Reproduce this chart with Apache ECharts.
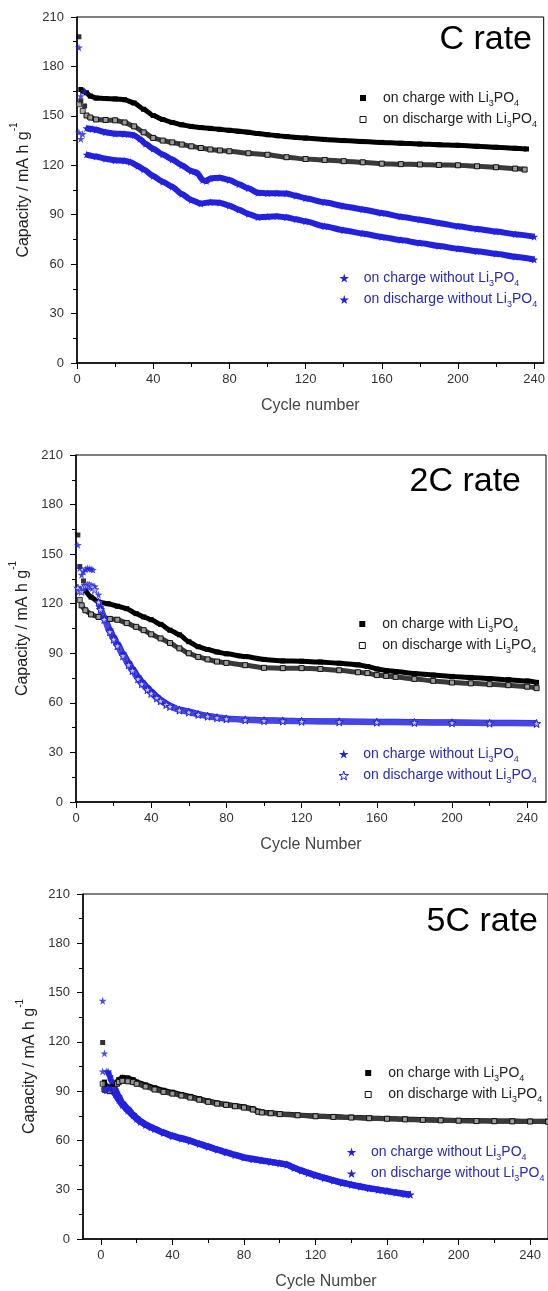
<!DOCTYPE html>
<html>
<head>
<meta charset="utf-8">
<script src="https://cdn.jsdelivr.net/npm/echarts@6/dist/echarts.min.js"></script>
<style>
html, body { margin: 0; padding: 0; background: #fff; }
#main { width: 548px; height: 1291px; }
</style>
</head>
<body>
<div id="main"></div>
<script>
// tick labels
var xTicks = [0, 40, 80, 120, 160, 200, 240];
var xMinorTicks = [20, 60, 100, 140, 180, 220];

// ---- C rate : [cycle, capacity] ----
var c1ChargeWithFirst = [[1, 198], [2, 159], [4, 156]];
var c1ChargeWith = [[2, 166], [3, 165], [5, 164], [7, 162], [10, 160.8], [15, 160.5], [20, 160.3], [25, 159.8], [30, 157.8], [35, 154], [40, 150.2], [45, 147.8], [50, 146], [55, 144.6], [60, 143.6], [65, 142.9], [70, 142.4], [75, 141.8], [80, 141.2], [85, 140.6], [90, 140], [95, 139.3], [100, 138.6], [105, 138], [110, 137.4], [115, 136.9], [120, 136.5], [130, 135.7], [140, 135], [150, 134.4], [160, 133.9], [170, 133.4], [180, 132.9], [190, 132.5], [200, 132.1], [210, 131.5], [220, 130.9], [230, 130.3], [236, 129.9]];
var c1DischargeWithFirst = [[1, 157], [3, 153]];
var c1DischargeWith = [[5, 150.2], [7, 149], [10, 147.8], [15, 147.5], [20, 147.3], [25, 146], [30, 143.6], [35, 140], [40, 136.6], [45, 135], [50, 133.9], [55, 132.6], [60, 131.5], [65, 130.5], [70, 129.6], [75, 129], [80, 128.5], [90, 127.3], [100, 126.4], [110, 124.9], [120, 123.8], [130, 123.2], [140, 122.5], [150, 121.8], [160, 121], [170, 120.7], [180, 120.5], [190, 120.2], [200, 120], [210, 119.4], [220, 118.8], [230, 118], [235, 117.4]];
var c1ChargeWithoutFirst = [[1, 191.5], [2, 162], [4, 165]];
var c1ChargeWithout = [[5, 142.5], [8, 142], [10, 141.5], [15, 140], [20, 139.2], [25, 139], [30, 138.3], [33, 136], [36, 133], [40, 130], [45, 126.5], [50, 123.5], [55, 120], [60, 116.5], [63, 115.5], [66, 111], [68, 110.5], [70, 112], [75, 112.5], [80, 111], [85, 108.5], [90, 106], [95, 103.3], [100, 103], [105, 103], [110, 102.8], [115, 101.5], [120, 100], [130, 97.5], [140, 95.2], [150, 93.2], [160, 91], [170, 88.8], [180, 87], [190, 85], [200, 83], [210, 81.3], [220, 79.8], [230, 78.2], [240, 76.7]];
var c1DischargeWithoutFirst = [[1, 140], [2, 136], [3, 139]];
var c1DischargeWithout = [[5, 126.5], [10, 125.3], [15, 124], [20, 123], [25, 122.8], [28, 122], [32, 119.5], [35, 117.5], [40, 113.5], [45, 110], [50, 107], [55, 102.5], [60, 99], [65, 96.8], [70, 97.6], [75, 97.3], [80, 95.5], [85, 93], [90, 90.5], [95, 88.5], [100, 88.8], [105, 89], [110, 88.4], [115, 87.2], [120, 86], [130, 83], [140, 80.6], [150, 78.6], [160, 76.5], [170, 74.6], [180, 72.8], [190, 71], [200, 69.3], [210, 67.8], [220, 66.3], [230, 64.5], [240, 62.8]];

// ---- 2C rate ----
var c2ChargeWithFirst = [[1, 161.6], [2, 142.5], [4, 133.8]];
var c2ChargeWith = [[5, 128], [8, 124], [12, 121], [17, 120], [22, 118.5], [27, 117], [32, 114], [36, 112], [40, 110.3], [45, 107.5], [50, 104], [55, 101.2], [60, 97], [65, 94], [70, 92.3], [75, 90.8], [80, 89.7], [90, 88], [100, 86.3], [110, 85.4], [120, 85.2], [130, 84.7], [140, 84], [150, 83], [155, 82], [160, 80.5], [165, 79.6], [170, 79], [180, 77.7], [190, 76.8], [200, 76], [210, 75.4], [220, 74.7], [230, 74], [240, 73.2], [245, 72.4]];
var c2DischargeWithFirst = [[2, 122.3]];
var c2DischargeWith = [[3, 119], [5, 116], [8, 113.5], [12, 112], [18, 110.8], [22, 110.3], [27, 108.3], [32, 106], [36, 104], [40, 101.5], [45, 99], [50, 96.2], [55, 93], [60, 90], [65, 87.8], [70, 86.3], [75, 85], [80, 84.2], [90, 82.8], [100, 81.2], [110, 81], [120, 81], [130, 80.5], [140, 79.7], [150, 78.5], [155, 78], [160, 76.8], [165, 76.3], [170, 75.7], [180, 74.5], [190, 73.3], [200, 72.3], [210, 71.8], [220, 71.3], [230, 70.7], [240, 69.8], [245, 68.9]];
var c2ChargeWithoutFirst = [[1, 155.6], [2, 141.5], [3, 137.5], [4, 139.5], [5, 140.8], [6, 141.5], [7, 141.3], [8, 141], [9, 140.5], [10, 130.5], [12, 125.4]];
var c2ChargeWithout = [[13, 118], [15, 112], [18, 104.5], [20, 100], [22, 96], [25, 90], [28, 84.5], [30, 81], [33, 76], [35, 73], [38, 69.5], [40, 67], [43, 64], [45, 62], [48, 59.7], [50, 58.3], [55, 56], [60, 54.8], [65, 53.3], [70, 52.2], [75, 51.3], [80, 50.6], [90, 50], [100, 49.5], [110, 49.3], [120, 49], [140, 48.8], [160, 48.6], [180, 48.4], [200, 48.2], [220, 48], [245, 47.8]];
var c2DischargeWithoutFirst = [[1, 129.4], [2, 128], [3, 127.5], [4, 130], [5, 131], [6, 131], [7, 131], [8, 130.5], [9, 130], [10, 128.5]];
var c2DischargeWithout = [[12, 121], [13, 116.5], [15, 110.5], [18, 103], [20, 98.5], [22, 94.5], [25, 88.5], [28, 83], [30, 79.5], [33, 74.5], [35, 71.5], [38, 68], [40, 65.8], [43, 63], [45, 61.2], [48, 59], [50, 57.8], [55, 55.6], [60, 54.4], [65, 53], [70, 51.9], [75, 51], [80, 50.3], [90, 49.7], [100, 49.2], [110, 49], [120, 48.8], [140, 48.5], [160, 48.3], [180, 48.1], [200, 47.9], [220, 47.7], [245, 47.5]];

// ---- 5C rate ----
var c3ChargeWithFirst = [[1, 119.6]];
var c3ChargeWith = [[2, 95.5], [3, 93], [5, 92.5], [7, 93], [9, 95.5], [10, 97], [12, 98.4], [15, 98], [18, 97], [20, 95.6], [25, 93.8], [30, 92], [35, 90.5], [40, 89.3], [45, 88], [50, 86.8], [55, 85.3], [60, 84], [65, 82.8], [70, 82], [75, 81.2], [80, 80.4], [85, 79.3], [88, 77.8], [90, 77.3], [95, 76.8], [100, 76.3], [110, 75.5], [120, 74.9], [130, 74.5], [140, 74.1], [150, 73.7], [160, 73.4], [170, 73], [180, 72.7], [190, 72.4], [200, 72.2], [210, 72], [220, 71.9], [230, 71.8], [240, 71.7], [250, 71.6]];
var c3DischargeWithFirst = [[1, 94.5]];
var c3DischargeWith = [[2, 91], [3, 90.5], [5, 90], [7, 91], [9, 94.5], [10, 95.5], [12, 96.3], [15, 96], [18, 95.5], [20, 94.5], [25, 92.8], [30, 91], [35, 89.6], [40, 88.5], [45, 87.3], [50, 86.1], [55, 84.8], [60, 83.5], [65, 82.4], [70, 81.6], [75, 80.8], [80, 80], [85, 78.8], [88, 77.4], [90, 77], [95, 76.5], [100, 76], [110, 75.3], [120, 74.7], [130, 74.3], [140, 73.9], [150, 73.5], [160, 73.2], [170, 72.8], [180, 72.5], [190, 72.2], [200, 72], [210, 71.8], [220, 71.7], [230, 71.6], [240, 71.5], [250, 71.4]];
var c3ChargeWithoutFirst = [[1, 145], [2, 113], [3, 102]];
var c3ChargeWithout = [[4, 102], [5, 99], [6, 96], [8, 91], [10, 87], [12, 83], [15, 79.5], [18, 76], [20, 74], [22, 72], [25, 70], [28, 68.3], [30, 67.3], [35, 65], [40, 63], [45, 61.5], [50, 60], [55, 58.2], [60, 56.5], [65, 54.7], [70, 53], [75, 51.3], [80, 49.8], [85, 48.8], [90, 48], [95, 47], [100, 46.2], [104, 45.5], [108, 43.5], [112, 41.8], [116, 40.3], [120, 39], [125, 37.3], [130, 35.8], [135, 34.4], [140, 33.2], [145, 32.1], [150, 31.1], [155, 30.2], [160, 29.3], [165, 28.4], [170, 27.6], [173, 27.2]];
var c3DischargeWithoutFirst = [[1, 102], [2, 91], [3, 90.5]];
var c3DischargeWithout = [[4, 92], [5, 91.5], [6, 91], [8, 88], [10, 84.5], [12, 81.5], [15, 78], [18, 75], [20, 73], [22, 71.2], [25, 69.3], [28, 67.8], [30, 66.8], [35, 64.5], [40, 62.5], [45, 61], [50, 59.5], [55, 57.7], [60, 56], [65, 54.3], [70, 52.6], [75, 51], [80, 49.5], [85, 48.5], [90, 47.7], [95, 46.8], [100, 46], [104, 45.2], [108, 43.2], [112, 41.5], [116, 40], [120, 38.6], [125, 37], [130, 35.5], [135, 34.1], [140, 32.9], [145, 31.8], [150, 30.8], [155, 29.9], [160, 29], [165, 28.1], [170, 27.3], [173, 26.9]];

var FONT = '"Liberation Sans", Arial, sans-serif';
var BLUE = '#2222de';
var STAR = 'path://M50 0L61 35L98 35L68 57L79 91L50 70L21 91L32 57L2 35L39 35Z';
var SQUARE = 'path://M0 0H10V10H0Z';

var panels = [
    {
        title: 'C rate', titleX: 532, titleY: 40,
        grid: { left: 77, top: 17, width: 467, height: 346 },
        xMin: 0, xMax: 245, xName: 'Cycle number', xNamePad: 0, yNameGap: 42,
        blackLegend: { left: 359.5, top: 91 }, blueLegend: { left: 339.5, top: 271 },
        openStar: false,
        sets: [
            ['charge with', c1ChargeWith, c1ChargeWithFirst],
            ['discharge with', c1DischargeWith, c1DischargeWithFirst],
            ['charge without', c1ChargeWithout, c1ChargeWithoutFirst],
            ['discharge without', c1DischargeWithout, c1DischargeWithoutFirst]
        ]
    },
    {
        title: '2C rate', titleX: 521, titleY: 482,
        grid: { left: 76, top: 455, width: 470, height: 347 },
        xMin: 0, xMax: 250, xName: 'Cycle Number', xNamePad: 0, yNameGap: 42,
        blackLegend: { left: 358.8, top: 617 }, blueLegend: { left: 338.5, top: 747 },
        openStar: true,
        sets: [
            ['charge with', c2ChargeWith, c2ChargeWithFirst],
            ['discharge with', c2DischargeWith, c2DischargeWithFirst],
            ['charge without', c2ChargeWithout, c2ChargeWithoutFirst],
            ['discharge without', c2DischargeWithout, c2DischargeWithoutFirst]
        ]
    },
    {
        title: '5C rate', titleX: 538, titleY: 922,
        grid: { left: 83, top: 894, width: 469, height: 346 },
        xMin: -10, xMax: 250, xName: 'Cycle Number', xNamePad: 21, yNameGap: 39,
        blackLegend: { left: 364.7, top: 1066 }, blueLegend: { left: 346.8, top: 1145 },
        openStar: false,
        sets: [
            ['charge with', c3ChargeWith, c3ChargeWithFirst],
            ['discharge with', c3DischargeWith, c3DischargeWithFirst],
            ['charge without', c3ChargeWithout, c3ChargeWithoutFirst],
            ['discharge without', c3DischargeWithout, c3DischargeWithoutFirst]
        ]
    }
];

function styleFor(kind, openStar) {
    if (kind === 'charge with') {
        return { symbol: 'rect', icon: SQUARE, size: 5, item: { color: '#000' }, line: { color: '#000', width: 5 } };
    }
    if (kind === 'discharge with') {
        return { symbol: 'rect', icon: SQUARE, size: 5, item: { color: '#9a9a9a', borderColor: '#111', borderWidth: 1 },
            line: { color: '#3a3a3a', width: 5 }, legendItem: { color: '#fff', borderColor: '#111', borderWidth: 1 } };
    }
    if (kind === 'discharge without' && openStar) {
        return { symbol: STAR, icon: STAR, size: 8, item: { color: '#c4c4ff', borderColor: BLUE, borderWidth: 1 },
            line: { color: '#4646e4', width: 6 }, legendItem: { color: '#fff', borderColor: BLUE, borderWidth: 1 } };
    }
    return { symbol: STAR, icon: STAR, size: 8, item: { color: BLUE }, line: { color: BLUE, width: 6 } };
}

function legendLabel(name) {
    var kind = name.split(':')[1];
    return '{n|on ' + kind + ' Li}{s|3}{n|PO}{s|4}';
}

function legendRich(color) {
    return {
        n: { fontSize: 14, fontFamily: FONT, color: color, verticalAlign: 'middle' },
        s: { fontSize: 9, fontFamily: FONT, color: color, verticalAlign: 'middle', padding: [11, 0, 0, 0] }
    };
}

var grids = [], xAxes = [], yAxes = [], series = [], legends = [], graphics = [];

panels.forEach(function (p, i) {
    grids.push({ left: p.grid.left, top: p.grid.top, width: p.grid.width, height: p.grid.height,
        show: true, borderColor: '#000', borderWidth: 1, backgroundColor: 'transparent' });

    xAxes.push({
        type: 'value', gridIndex: i, position: 'bottom', min: p.xMin, max: p.xMax,
        name: p.xName, nameLocation: 'middle', nameGap: 35,
        nameTextStyle: { fontSize: 16, color: '#444', fontFamily: FONT, padding: [0, 0, 0, p.xNamePad] },
        axisLine: { show: true, onZero: false, lineStyle: { color: '#000', width: 1.5 } },
        axisTick: { show: true, customValues: xTicks, length: 6, lineStyle: { color: '#000', width: 1 } },
        axisLabel: { customValues: xTicks, fontSize: 13, color: '#333', fontFamily: FONT, margin: 10 },
        splitLine: { show: false }
    });
    // minor ticks of the x axis
    xAxes.push({
        type: 'value', gridIndex: i, position: 'bottom', min: p.xMin, max: p.xMax,
        axisLine: { show: false },
        axisTick: { show: true, customValues: xMinorTicks, length: 4, lineStyle: { color: '#000', width: 1 } },
        axisLabel: { show: false },
        splitLine: { show: false }
    });

    yAxes.push({
        type: 'value', gridIndex: i, min: 0, max: 210, interval: 30,
        name: '{a|Capacity / mA h g}{b|-1}', nameLocation: 'middle', nameGap: p.yNameGap,
        nameTextStyle: {
            rich: {
                a: { fontSize: 16, fontFamily: FONT, color: '#222', lineHeight: 22, verticalAlign: 'bottom' },
                b: { fontSize: 10, fontFamily: FONT, color: '#222', lineHeight: 10, verticalAlign: 'top' }
            }
        },
        axisLine: { show: true, onZero: false, lineStyle: { color: '#000', width: 1.5 } },
        axisTick: { show: true, length: 6, lineStyle: { color: '#000', width: 1 } },
        minorTick: { show: true, splitNumber: 2, length: 4, lineStyle: { color: '#000', width: 1 } },
        axisLabel: { fontSize: 13, color: '#333', fontFamily: FONT, margin: 13 },
        splitLine: { show: false }
    });

    var black = [], blue = [];
    p.sets.forEach(function (set) {
        var kind = set[0];
        var st = styleFor(kind, p.openStar);
        var name = p.title + ':' + kind;
        series.push({
            name: name, type: 'line', xAxisIndex: i * 2, yAxisIndex: i,
            data: set[1], smooth: 0.2, smoothMonotone: 'x',
            symbol: st.symbol, symbolSize: st.size, showSymbol: true, showAllSymbol: true,
            itemStyle: st.item, lineStyle: st.line, z: 3
        });
        series.push({
            name: name + ' first', type: 'scatter', xAxisIndex: i * 2, yAxisIndex: i,
            data: set[2], symbol: st.symbol, symbolSize: st.size, itemStyle: st.item, z: 4
        });
        var icon = { name: name, icon: st.icon, itemStyle: st.legendItem || st.item };
        if (kind.indexOf('without') >= 0) { blue.push(icon); } else { black.push(icon); }
    });

    legends.push({
        left: p.blackLegend.left, top: p.blackLegend.top, orient: 'vertical', padding: 0,
        itemWidth: 30, itemHeight: 6, itemGap: 4.5, selectedMode: false,
        data: black, formatter: legendLabel,
        textStyle: { color: '#222', rich: legendRich('#222') }
    });
    legends.push({
        left: p.blueLegend.left, top: p.blueLegend.top, orient: 'vertical', padding: 0,
        itemWidth: 29, itemHeight: 9, itemGap: 4.5, selectedMode: false,
        data: blue, formatter: legendLabel,
        textStyle: { color: '#2a2ab4', rich: legendRich('#2a2ab4') }
    });

    graphics.push({
        type: 'text', x: p.titleX, y: p.titleY, z: 10,
        style: { text: p.title, fontSize: 34, fontFamily: FONT, fill: '#000', align: 'right', verticalAlign: 'middle' }
    });
});

var chart = echarts.init(document.getElementById('main'));
chart.setOption({
    animation: false,
    backgroundColor: '#fff',
    grid: grids,
    xAxis: xAxes,
    yAxis: yAxes,
    legend: legends,
    graphic: graphics,
    series: series
});
</script>
</body>
</html>
